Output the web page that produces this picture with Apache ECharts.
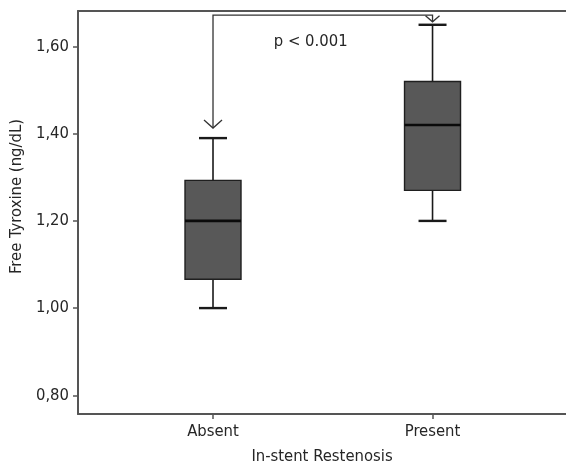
<!DOCTYPE html>
<html>
<head>
<meta charset="utf-8">
<script src="https://cdn.jsdelivr.net/npm/echarts@6/dist/echarts.min.js"></script>
<style>html,body{margin:0;padding:0;background:#fff}#c{width:566px;height:470px}</style>
</head>
<body>
<div id="c"></div>
<script>
// ---- data ----
const categories = ['Absent', 'Present'];
const categoryPos = [1, 2];
// [min, Q1, median, Q3, max]
const boxMin = [1.00, 1.20];
const boxQ1 = [1.066, 1.27];
const boxMedian = [1.20, 1.42];
const boxQ3 = [1.293, 1.52];
const boxMax = [1.39, 1.65];
const yTicks = [0.80, 1.00, 1.20, 1.40, 1.60];
const yTickLabels = ['0,80', '1,00', '1,20', '1,40', '1,60'];
const pLabel = 'p < 0.001';
const bracketLevel = 1.672;

const FONT = "'DejaVu Sans Condensed', 'Liberation Sans Narrow', 'Liberation Sans', sans-serif";
const TXT = '#262626';
const FS = 16.5;

const boxSeriesData = categoryPos.map((x, i) => [x, boxMin[i], boxQ1[i], boxMedian[i], boxQ3[i], boxMax[i]]);

const chart = echarts.init(document.getElementById('c'), null, {renderer: 'canvas'});

function renderBox(params, api) {
  const x = api.value(0);
  const pMin = api.coord([x, api.value(1)]);
  const pQ1 = api.coord([x, api.value(2)]);
  const pMed = api.coord([x, api.value(3)]);
  const pQ3 = api.coord([x, api.value(4)]);
  const pMax = api.coord([x, api.value(5)]);
  const cx = pMin[0];
  const hw = 28, cw = 14;
  const lineStyle = {stroke: '#1a1a1a', lineWidth: 1.6};
  return {
    type: 'group',
    children: [
      {type: 'line', shape: {x1: cx, y1: pQ3[1], x2: cx, y2: pMax[1]}, style: lineStyle},
      {type: 'line', shape: {x1: cx, y1: pQ1[1], x2: cx, y2: pMin[1]}, style: lineStyle},
      {type: 'line', shape: {x1: cx - cw, y1: pMax[1], x2: cx + cw, y2: pMax[1]}, style: {stroke: '#1a1a1a', lineWidth: 2.4}},
      {type: 'line', shape: {x1: cx - cw, y1: pMin[1], x2: cx + cw, y2: pMin[1]}, style: {stroke: '#1a1a1a', lineWidth: 2.4}},
      {type: 'rect', shape: {x: cx - hw, y: pQ3[1], width: hw * 2, height: pQ1[1] - pQ3[1]},
        style: {fill: '#585858', stroke: '#1f1f1f', lineWidth: 1.4}},
      {type: 'line', shape: {x1: cx - hw, y1: pMed[1], x2: cx + hw, y2: pMed[1]}, style: {stroke: '#0a0a0a', lineWidth: 2.6}}
    ]
  };
}

function renderBracket(params, api) {
  const xa = categoryPos[0], xb = categoryPos[1];
  const pa = api.coord([xa, boxMax[0]]);
  const pb = api.coord([xb, boxMax[1]]);
  const lvl = api.coord([xa, bracketLevel])[1];
  const tipA = pa[1] - 10;
  const tipB = pb[1] - 3;
  const st = {stroke: '#333', lineWidth: 1.3, fill: null};
  const aw = 9, ah = 8;
  return {
    type: 'group',
    children: [
      {type: 'polyline', shape: {points: [[pa[0], tipA], [pa[0], lvl], [pb[0], lvl], [pb[0], tipB]]}, style: st},
      {type: 'polyline', shape: {points: [[pa[0] - aw, tipA - ah], [pa[0], tipA], [pa[0] + aw, tipA - ah]]}, style: st},
      {type: 'polyline', shape: {points: [[pb[0] - 7, tipB - 6], [pb[0], tipB], [pb[0] + 7, tipB - 6]]}, style: st},
      {type: 'text', style: {text: pLabel, x: pa[0] + (pb[0] - pa[0]) * 0.445, y: lvl + 27,
        align: 'center', verticalAlign: 'middle', font: FS + 'px ' + FONT, fill: TXT}}
    ]
  };
}

chart.setOption({
  animation: false,
  backgroundColor: '#fff',
  grid: {left: 78, top: 11, right: 0, bottom: 51, containLabel: false},
  xAxis: [{
    type: 'value', min: 0.385, max: 2.608, position: 'bottom',
    splitLine: {show: false},
    axisLine: {show: true, lineStyle: {color: '#555', width: 2}},
    axisTick: {show: true, length: 5, customValues: categoryPos, lineStyle: {color: '#555', width: 1.5}},
    axisLabel: {show: true, customValues: categoryPos, margin: 9, color: TXT, fontFamily: FONT, fontSize: FS,
      formatter: v => categories[categoryPos.indexOf(v)] || ''},
    name: 'In-stent Restenosis', nameLocation: 'middle', nameGap: 34,
    nameTextStyle: {color: TXT, fontFamily: FONT, fontSize: FS}
  }, {
    type: 'value', min: 0.385, max: 2.608, position: 'top',
    splitLine: {show: false}, axisTick: {show: false}, axisLabel: {show: false},
    axisLine: {show: true, lineStyle: {color: '#555', width: 2}}
  }],
  yAxis: {
    type: 'value', min: 0.757, max: 1.6816,
    splitLine: {show: false},
    axisLine: {show: true, lineStyle: {color: '#555', width: 2}},
    axisTick: {show: true, length: 5, customValues: yTicks, lineStyle: {color: '#555', width: 1.5}},
    axisLabel: {show: true, customValues: yTicks, margin: 9, color: TXT, fontFamily: FONT, fontSize: FS,
      formatter: v => yTickLabels[yTicks.findIndex(t => Math.abs(t - v) < 1e-6)] || ''},
    name: 'Free Tyroxine (ng/dL)', nameLocation: 'middle', nameGap: 46,
    nameTextStyle: {color: TXT, fontFamily: FONT, fontSize: FS, padding: [0, 0, 0, 32]}
  },
  series: [{
    type: 'custom', xAxisIndex: 0, yAxisIndex: 0, renderItem: renderBox, data: boxSeriesData,
    encode: {x: 0, y: [1, 2, 3, 4, 5]}, clip: false
  }, {
    type: 'custom', xAxisIndex: 0, yAxisIndex: 0, renderItem: renderBracket, data: [[1, bracketLevel]],
    encode: {x: 0, y: 1}, clip: false
  }]
});
</script>
</body>
</html>
